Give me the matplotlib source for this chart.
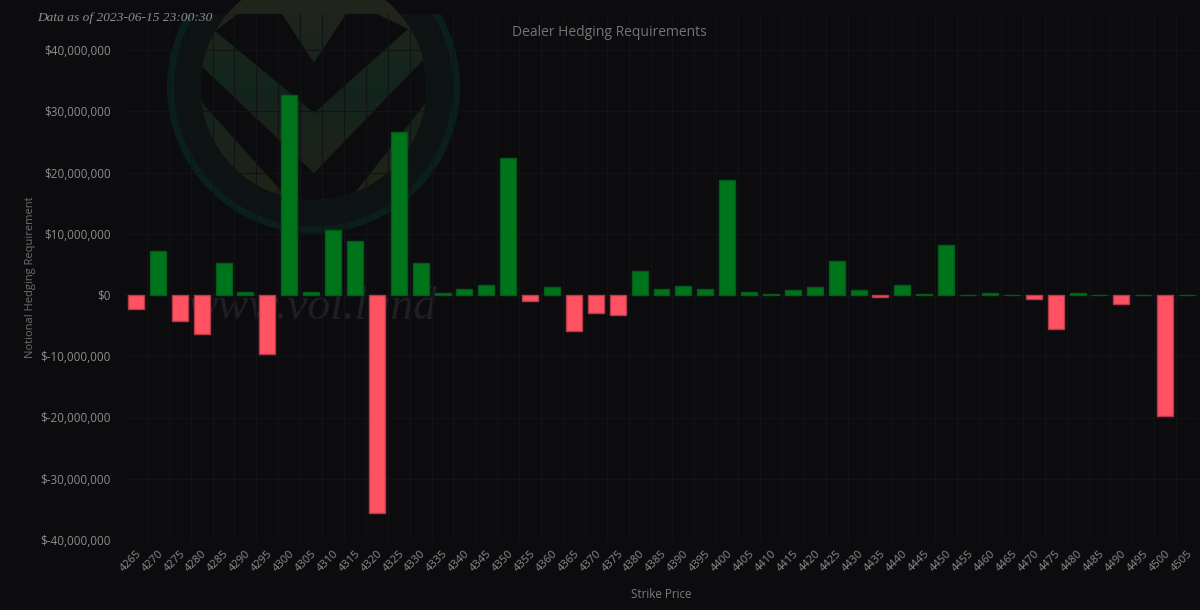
import numpy as np
import matplotlib
matplotlib.use('Agg')
import matplotlib.pyplot as plt
from matplotlib.patches import Circle, Polygon, Rectangle
from matplotlib.ticker import FuncFormatter

# strikes and dealer hedging notional (millions of $)
strikes = list(range(4265, 4506, 5))
hedge_m = [-2.3, 7.2, -4.3, -6.3, 5.2, 0.5, -9.6, 32.7, 0.5, 10.6,
           8.8, -35.6, 26.6, 5.2, 0.3, 1.0, 1.7, 22.4, -0.9, 1.3,
           -5.8, -3.0, -3.2, 4.0, 1.0, 1.5, 0.9, 18.8, 0.5, 0.1,
           0.8, 1.25, 5.5, 0.8, -0.4, 1.6, 0.15, 8.2, 0.05, 0.4,
           0.0, -0.6, -5.5, 0.3, 0.05, -1.5, 0.03, -19.8, 0.03]
y_ticks_m = [-40, -30, -20, -10, 0, 10, 20, 30, 40]

bg = '#0c0c0f'
values = np.array(hedge_m) * 1e6
x = np.arange(len(strikes))

fig = plt.figure(figsize=(12, 6.1), dpi=100, facecolor=bg)

# background layer in pixel coordinates (logo + watermark)
back = fig.add_axes([0, 0, 1, 1], zorder=0)
back.set_xlim(0, 1200)
back.set_ylim(610, 0)
back.axis('off')
back.set_facecolor(bg)
clip = Rectangle((0, 14), 1200, 526, transform=back.transData, visible=False)
back.add_patch(clip)

cx, cy = 313.5, 87
logo = [Circle((cx, cy), 143, fc='#0d1212', ec='#0a1f1b', lw=5),
        Circle((cx, cy), 113, fc='#1f241b', ec='none')]
for p in logo:
    back.add_patch(p)
    p.set_clip_path(clip)
# gradient shading on the disc
grad = np.linspace(0, 1, 200)[:, None]
cmap = matplotlib.colors.LinearSegmentedColormap.from_list(
    'lg', ['#27251a', '#12241d', '#222217'])
im = back.imshow(grad, extent=(cx - 113, cx + 113, cy + 113, cy - 113),
                 cmap=cmap, aspect='auto', zorder=1)
im.set_clip_path(logo[1])
cut_a = [(215, 31), (238, 14), (282, 14), (314, 63), (346, 14),
         (377, 14), (408, 29), (314, 113)]
cut_b = [(195, 60), (314, 173), (425, 58), (445, 78), (340, 212),
         (300, 212), (195, 95)]
for pts in (cut_a, cut_b):
    poly = Polygon(pts, closed=True, fc=bg, ec='none', zorder=2)
    back.add_patch(poly)
    poly.set_clip_path(logo[1])

back.text(313, 308, 'www.vol.land', family='Liberation Serif', style='italic',
          fontsize=33, color='#1f1f23', ha='center', va='center', zorder=3)
back.text(37, 18, 'Data as of 2023-06-15 23:00:30', family='Liberation Serif',
          style='italic', fontsize=9.6, color='#8e8e8e', ha='left', va='center',
          zorder=3)

# main chart
ax = fig.add_axes([125 / 1200, 70 / 610, 1073 / 1200, 526 / 610], zorder=1)
ax.set_facecolor('none')
face = ['#00741b' if v >= 0 else '#ff5263' for v in values]
edge = ['#005c16' if v >= 0 else '#b83a48' for v in values]
ax.bar(x, values, width=0.73, color=face, edgecolor=edge, linewidth=1, zorder=3)

ax.set_xlim(-0.5, len(strikes) - 0.5)
ax.set_ylim(-40e6, (295 - 14) / 6.125 * 1e6)
ax.set_yticks([v * 1e6 for v in y_ticks_m])
ax.yaxis.set_major_formatter(FuncFormatter(lambda v, pos: '${:,}'.format(int(round(v)))))
ax.set_xticks(x)
ax.set_xticklabels([str(s) for s in strikes], rotation=45, ha='right',
                   rotation_mode='anchor')
ax.set_xticks(x[:-1] + 0.5, minor=True)
ax.grid(False)
ax.grid(True, which='minor', axis='x', color='#121316', lw=0.8, zorder=0)
ax.grid(True, which='major', axis='y', color='#121316', lw=0.8, zorder=0)
ax.tick_params(axis='both', which='both', length=0, colors='#8c8c8c',
               labelsize=8.4)
ax.tick_params(axis='x', pad=6, labelsize=8)
ax.tick_params(axis='y', pad=10)
for lab in ax.get_xticklabels() + ax.get_yticklabels():
    lab.set_family('Open Sans')
for s in ax.spines.values():
    s.set_visible(False)

ax.set_xlabel('Strike Price', family='Open Sans', fontsize=8.4, color='#7a7a7a',
              labelpad=10)
ax.set_ylabel('Notional Hedging Requirement', family='Open Sans', fontsize=8,
              color='#6e6e6e', labelpad=3)
fig.text(609 / 1200, 1 - 33 / 610, 'Dealer Hedging Requirements',
         family='Open Sans', fontsize=10, color='#747474', ha='center',
         va='center')

fig.savefig('out.png', dpi=100, facecolor=bg)
